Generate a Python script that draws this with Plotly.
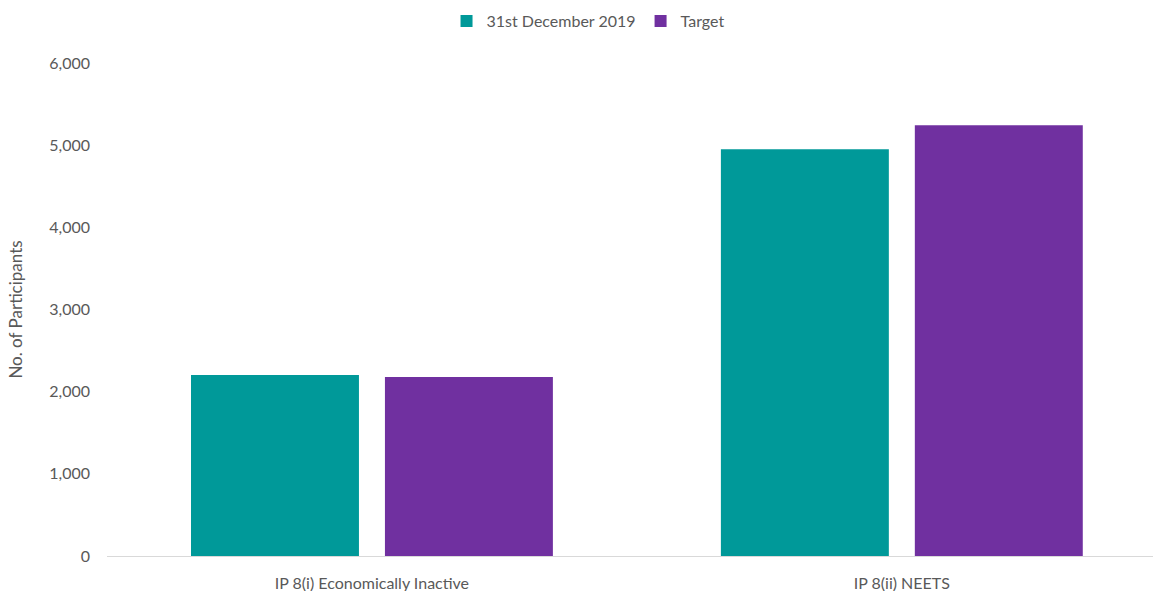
import plotly.graph_objects as go

categories = ["IP 8(i) Economically Inactive", "IP 8(ii) NEETS"]
actual_2019 = [2203, 4950]
target = [2180, 5242]
y_ticks = [0, 1000, 2000, 3000, 4000, 5000, 6000]

FONT = "Lato, 'Open Sans', sans-serif"
GREY = "#595959"

fig = go.Figure()
fig.add_trace(go.Bar(name="31st December 2019", x=categories, y=actual_2019,
                     marker=dict(color="#009999", line=dict(width=0))))
fig.add_trace(go.Bar(name="Target", x=categories, y=target,
                     marker=dict(color="#7030A0", line=dict(width=0))))

fig.update_layout(
    width=1153, height=591,
    margin=dict(l=107, r=0, t=63, b=35),
    paper_bgcolor="white", plot_bgcolor="white",
    barmode="group", bargap=0.268, bargroupgap=0.134,
    font=dict(family=FONT, size=15, color=GREY),
    showlegend=True,
    legend=dict(orientation="h", xref="container", yref="container",
                x=0.51, y=0.993, xanchor="center", yanchor="top",
                font=dict(size=16, color=GREY), itemwidth=30,
                traceorder="normal"),
)
fig.update_xaxes(range=[-0.5, 1.474], showgrid=False, showline=True,
                 linecolor="#d9d9d9", linewidth=1, ticks="",
                 tickfont=dict(size=16, color=GREY), ticklabelstandoff=13)
fig.update_yaxes(range=[0, 6000], tickvals=y_ticks, tickformat=",",
                 showgrid=False, zeroline=False, showline=False, ticks="",
                 ticklabelstandoff=16,
                 tickfont=dict(size=16, color=GREY),
                 title=dict(text="No. of Participants", standoff=22,
                            font=dict(size=17, color=GREY)))

fig.write_html("out.html")
